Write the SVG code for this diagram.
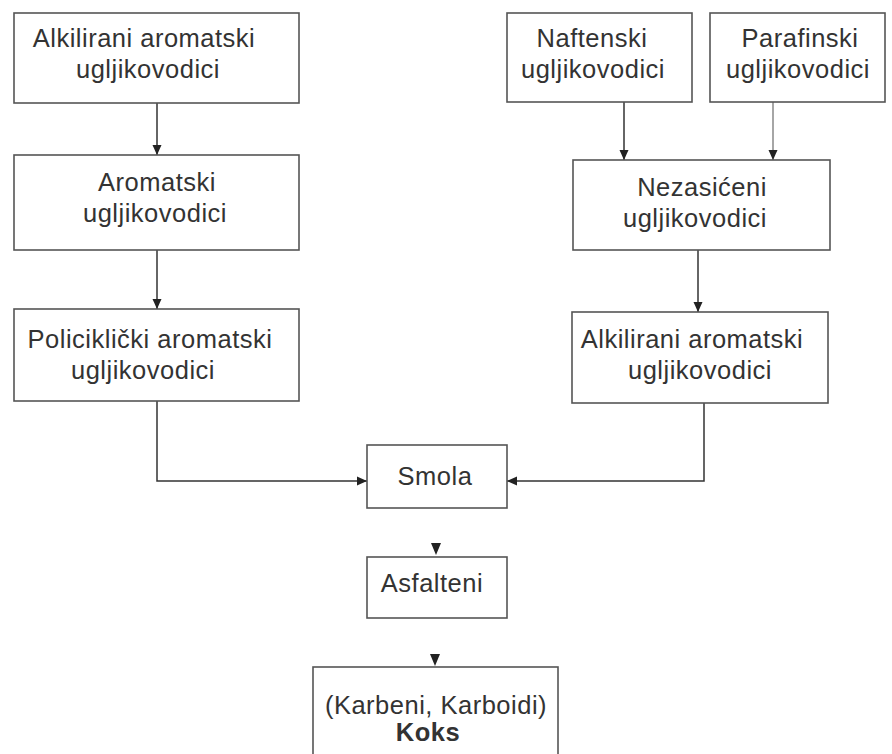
<svg xmlns="http://www.w3.org/2000/svg" width="892" height="754" viewBox="0 0 892 754">
<defs>
<style>
.box{fill:#fff;stroke:#555;stroke-width:1.6}
.t{font-family:"Liberation Sans",Arial,sans-serif;font-size:25.5px;fill:#333;text-anchor:middle;letter-spacing:0.5px}
.b{font-weight:bold}
.c{fill:none;stroke:#333;stroke-width:1.5}
.g{stroke:#888}
.ah{fill:#222}
</style>
<marker id="arr" markerUnits="userSpaceOnUse" markerWidth="10" markerHeight="10" refX="10" refY="5" orient="auto">
<path d="M0,0.5 L10,5 L0,9.5 z" fill="#222"/>
</marker>
</defs>
<rect width="892" height="754" fill="#fff"/>
<g id="connectors">
<path class="c" d="M157,103 V155" marker-end="url(#arr)"/>
<path class="c" d="M157,250 V309" marker-end="url(#arr)"/>
<path class="c" d="M157,401 V481 H367" marker-end="url(#arr)"/>
<path class="c" d="M624,102 V160" marker-end="url(#arr)"/>
<path class="c g" d="M773,102 V160" marker-end="url(#arr)"/>
<path class="c" d="M698,250 V312" marker-end="url(#arr)"/>
<path class="c" d="M704,403 V481 H507" marker-end="url(#arr)"/>
<polygon class="ah" points="431,543 441,543 436,555"/>
<polygon class="ah" points="430,654 440,654 435,666"/>
</g>
<g id="n1"><rect class="box" x="14" y="13" width="285" height="90"/>
<text class="t" x="144" y="47">Alkilirani aromatski</text><text class="t" x="148" y="78">ugljikovodici</text></g>
<g id="n2"><rect class="box" x="14" y="155" width="285" height="95"/>
<text class="t" x="157" y="191">Aromatski</text><text class="t" x="155" y="222">ugljikovodici</text></g>
<g id="n3"><rect class="box" x="14" y="309" width="285" height="92"/>
<text class="t" x="150" y="348">Policiklički aromatski</text><text class="t" x="143" y="379">ugljikovodici</text></g>
<g id="n4"><rect class="box" x="507" y="13" width="185" height="89"/>
<text class="t" x="592" y="47">Naftenski</text><text class="t" x="593" y="78">ugljikovodici</text></g>
<g id="n5"><rect class="box" x="710" y="13" width="175" height="89"/>
<text class="t" x="800" y="47">Parafinski</text><text class="t" x="798" y="78">ugljikovodici</text></g>
<g id="n6"><rect class="box" x="573" y="160" width="257" height="90"/>
<text class="t" x="702" y="196">Nezasićeni</text><text class="t" x="695" y="227">ugljikovodici</text></g>
<g id="n7"><rect class="box" x="572" y="312" width="256" height="91"/>
<text class="t" x="692" y="348">Alkilirani aromatski</text><text class="t" x="700" y="379">ugljikovodici</text></g>
<g id="n8"><rect class="box" x="367" y="445" width="140" height="63"/>
<text class="t" x="435" y="485">Smola</text></g>
<g id="n9"><rect class="box" x="367" y="557" width="140" height="61"/>
<text class="t" x="432" y="592">Asfalteni</text></g>
<g id="n10"><rect class="box" x="313" y="667" width="245" height="95"/>
<text class="t" x="436" y="714">(Karbeni, Karboidi)</text><text class="t b" x="428" y="741">Koks</text></g>
</svg>
